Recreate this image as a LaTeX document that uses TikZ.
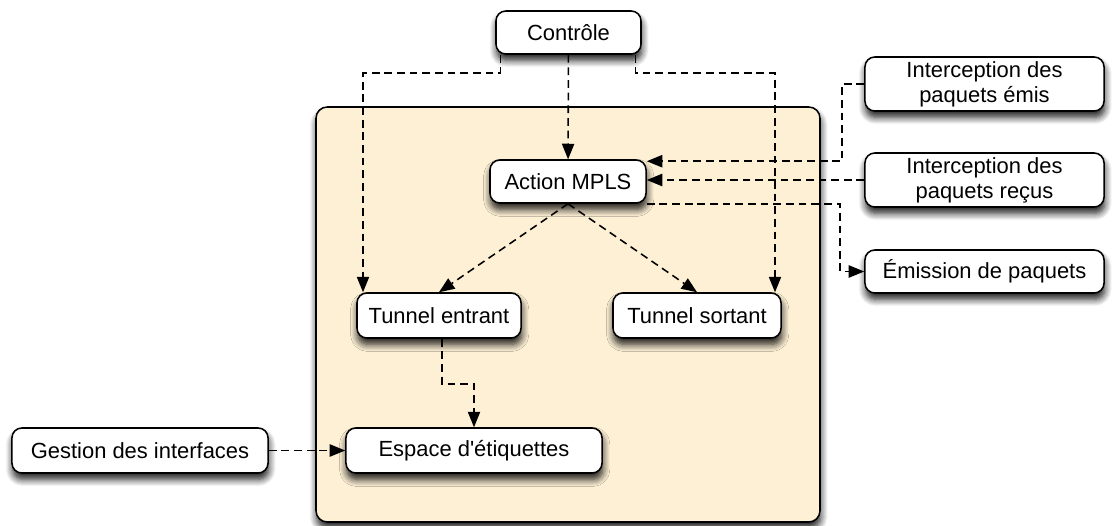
\documentclass[tikz,border=0pt]{standalone}
\usepackage{fontspec}
\setmainfont{Liberation Sans}
\usetikzlibrary{arrows.meta,calc,shadows.blur}

\definecolor{fondcreme}{HTML}{FDF0D5}

\tikzset{
  ombre/.style={blur shadow={shadow xshift=0.5pt,shadow yshift=-4.5pt,shadow blur steps=8,shadow blur radius=5pt,shadow opacity=90}},
  boite/.style={draw,line width=1.1pt,rounded corners=7pt,fill=white,ombre,inner sep=0pt,align=center,
    font=\fontsize{15.6}{17.8}\selectfont},
  lien/.style={draw,line width=1.1pt,dash pattern=on 5.5pt off 3.5pt,
    -{Triangle[length=11pt,width=9pt,line width=0pt,fill=black]}}
}

\begin{document}
\begin{tikzpicture}[x=0.025cm,y=-0.025cm]
  \useasboundingbox (0,0) rectangle (1114,526);

  %boite principale
  \draw[line width=1.1pt,rounded corners=8pt,fill=fondcreme,ombre] (316,107) rectangle (820,522);

  %les noeuds
  \node[boite,minimum width=3.625cm,minimum height=1.075cm] (ctrl) at (568.5,32.5) {Contrôle};
  \node[boite,minimum width=3.9cm,minimum height=1.075cm] (act) at (568,181.5) {Action MPLS};
  \node[boite,minimum width=4.1cm,minimum height=1.125cm] (te) at (439,315.5) {Tunnel entrant};
  \node[boite,minimum width=4.2cm,minimum height=1.125cm] (ts) at (697,315.5) {Tunnel sortant};
  \node[boite,minimum width=6.4cm,minimum height=1.125cm] (esp) at (474,450.5) {Espace d\textquotesingle étiquettes};
  \node[boite,minimum width=6.4cm,minimum height=1.125cm] (gest) at (140,450.5) {Gestion des interfaces};
  \node[boite,minimum width=5.975cm,minimum height=1.35cm] (ie) at (984.5,84) {Interception des\\paquets émis};
  \node[boite,minimum width=5.975cm,minimum height=1.35cm] (ir) at (984.5,180) {Interception des\\paquets reçus};
  \node[boite,minimum width=5.975cm,minimum height=1.075cm] (em) at (984.5,271.5) {Émission de paquets};

  %points de passage
  \coordinate (cg) at (363,73);
  \coordinate (cd) at (775,73);

  %liens depuis le controle
  \draw[lien] ($(ctrl.south)+(-68,0)$) |- (cg) -- (cg |- te.north);
  \draw[lien] (ctrl) -- (act);
  \draw[lien] ($(ctrl.south)+(67,0)$) |- (cd) -- (cd |- ts.north);

  %interceptions et emission
  \draw[lien] (ie.west) -- ++(-22,0) |- ($(act.north east)+(0,2)$);
  \draw[lien] (ir.west) -- (ir.west -| act.east);
  \draw[lien] (act.south east) -| ($(em.west)+(-24,0)$) -- (em.west);

  %tunnels
  \draw[lien] (act.south) -- (te.north);
  \draw[lien] (act.south) -- (ts.north);
  \draw[lien] ($(te.south)+(3,0)$) -- ++(0,45) -| (esp.north);

  %gestion des interfaces
  \draw[lien] (gest.east) -- (esp.west);
\end{tikzpicture}
\end{document}
